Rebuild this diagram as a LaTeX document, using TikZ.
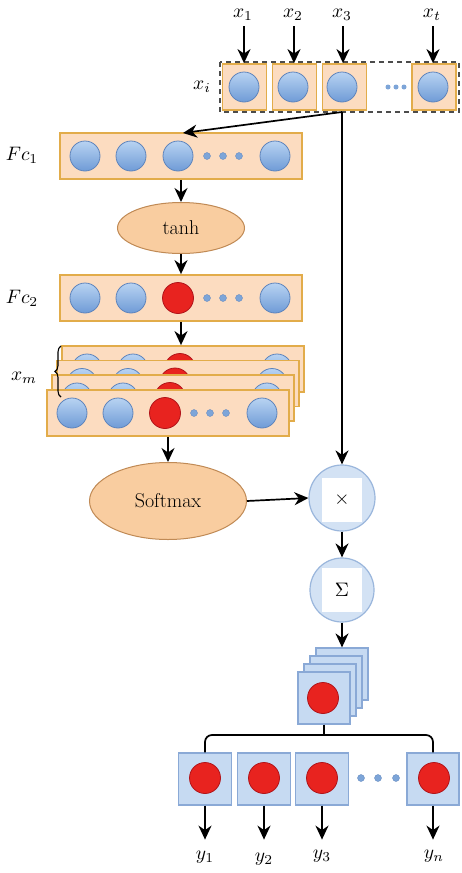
\documentclass[tikz,border=0pt]{standalone}
\usepackage{fontspec}
\usepackage{graphicx}
\setmainfont{Latin Modern Roman}
\usetikzlibrary{arrows.meta,shapes.geometric,decorations.pathreplacing,calc}
\definecolor{ofill}{HTML}{FCDCC0}
\definecolor{obord}{HTML}{E2AC4A}
\definecolor{efill}{HTML}{F9CDA0}
\definecolor{ebord}{HTML}{C08A55}
\definecolor{btop}{HTML}{B8D3F2}
\definecolor{bbot}{HTML}{6F9BD6}
\definecolor{bbord}{HTML}{5E84BC}
\definecolor{rfill}{HTML}{E8231F}
\definecolor{rbord}{HTML}{B0141A}
\definecolor{sqfill}{HTML}{C6DAF2}
\definecolor{sqbord}{HTML}{8AA9D6}
\definecolor{cfill}{HTML}{D3E2F4}
\definecolor{cbord}{HTML}{9AB6DC}
\definecolor{dotc}{HTML}{7DA5D8}
\newcommand\mlab[1]{\scalebox{1.95}{$#1$}}
\newcommand\fcrow[4]{%
  \node[obox] (#1) at (#2,#3) {};
  \node[bc] (#1a) at ($(#1)+(-96,0)$) {};
  \node[bc] (#1b) at ($(#1)+(-50,0)$) {};
  \node[#4] (#1c) at ($(#1)+(-3,0)$) {};
  \node[dotn] (#1d1) at ($(#1)+(26,0)$) {};
  \node[dotn] (#1d2) at ($(#1)+(42,0)$) {};
  \node[dotn] (#1d3) at ($(#1)+(58,0)$) {};
  \node[bc] (#1e) at ($(#1)+(94,0)$) {};
}
\begin{document}
\begin{tikzpicture}[x=1pt,y=-1pt,
  lab/.style={inner sep=0pt},
  obox/.style={rectangle, draw=obord, fill=ofill, line width=1.8pt, minimum width=242pt, minimum height=46pt, inner sep=0pt},
  tbox/.style={rectangle, draw=obord, fill=ofill, line width=1.8pt, minimum width=44pt, minimum height=46pt, inner sep=0pt},
  bc/.style={circle, draw=bbord, top color=btop, bottom color=bbot, line width=0.8pt, minimum size=30pt, inner sep=0pt},
  rc/.style={circle, draw=rbord, fill=rfill, line width=0.8pt, minimum size=31pt, inner sep=0pt},
  dotn/.style={circle, fill=dotc, draw=bbord, line width=0.3pt, minimum size=7pt, inner sep=0pt},
  sdot/.style={circle, fill=dotc, minimum size=5pt, inner sep=0pt},
  ell/.style={ellipse, draw=ebord, fill=efill, line width=1pt, inner sep=0pt, font=\fontsize{20}{24}\selectfont},
  opc/.style={circle, draw=cbord, fill=cfill, line width=1.2pt, minimum size=66pt, inner sep=0pt},
  wsq/.style={rectangle, fill=white, minimum width=40pt, minimum height=44pt, inner sep=0pt},
  sq/.style={rectangle, draw=sqbord, fill=sqfill, line width=1.2pt, minimum size=52pt, inner sep=0pt},
  arr/.style={line width=1.7pt, -{Stealth[length=14pt,width=13pt,inset=4.5pt]}},
  ln/.style={line width=1.7pt}
]
\useasboundingbox (0,0) rectangle (461,873);
\fill[white] (0,0) rectangle (461,873);

% ---- input row ----
\node[tbox] (t1) at (244.5,87) {};
\node[tbox] (t2) at (294.5,87) {};
\node[tbox] (t3) at (344.5,87) {};
\node[tbox] (t4) at (434,87) {};
\node[bc] (c1) at (244,87) {};
\node[bc] (c2) at (293,87) {};
\node[bc] (c3) at (342,87) {};
\node[bc] (c4) at (433,87) {};
\node[sdot] (td1) at (388,87) {};
\node[sdot] (td2) at (396,87) {};
\node[sdot] (td3) at (404,87) {};
\draw[line width=2pt, draw=black!70, dash pattern=on 5pt off 4pt] (220,62) rectangle (459,112);
\node[lab] (lx1) at (243,15) {\mlab{x_1}};
\node[lab] (lx2) at (293,15) {\mlab{x_2}};
\node[lab] (lx3) at (342,15) {\mlab{x_3}};
\node[lab] (lxt) at (432,15) {\mlab{x_t}};
\coordinate (a1) at (244,26);
\coordinate (a2) at (294,26);
\coordinate (a3) at (343,26);
\coordinate (a4) at (433,26);
\draw[arr] (a1) -- (a1 |- t1.north);
\draw[arr] (a2) -- (a2 |- t2.north);
\draw[arr] (a3) -- (a3 |- t3.north);
\draw[arr] (a4) -- (a4 |- t4.north);
\node[lab] (lxi) at (202,87) {\mlab{x_i}};
\coordinate (src) at (342,112);

% ---- Fc1, tanh, Fc2 ----
\fcrow{fc1}{181}{156}{bc}
\node[lab] (lfc1) at (22,155) {\mlab{Fc_1}};
\node[ell, minimum width=127pt, minimum height=51pt] (tanh) at (181,228) {tanh};
\fcrow{fc2}{181}{298}{rc}
\node[lab] (lfc2) at (22,298) {\mlab{Fc_2}};

% ---- stack x_m ----
\fcrow{s3}{183}{369}{rc}
\fcrow{s2}{178}{383.5}{rc}
\fcrow{s1}{173}{398}{rc}
\fcrow{s0}{168}{413}{rc}
\coordinate (br1) at (61,397);
\coordinate (br2) at (61,346);
\draw[line width=1.1pt, decorate, decoration={brace, amplitude=6pt}] (br1) -- (br2);
\node[lab] (lxm) at (24,378) {\mlab{x_m}};

% ---- softmax / ops ----
\node[ell, minimum width=157pt, minimum height=77pt] (soft) at (168,501) {Softmax};
\node[opc] (mul) at (342,498) {};
\node[wsq] (mulsq) at (342,500) {\mlab{\times}};
\node[opc, minimum size=64pt] (sum) at (342,590) {};
\node[wsq] (sumsq) at (342,590) {\mlab{\Sigma}};

% ---- output stack ----
\node[sq] (q3) at (342,674) {};
\node[sq] (q2) at (336,682) {};
\node[sq] (q1) at (330,690) {};
\node[sq] (q0) at (324,698) {};
\node[rc] (qr) at (323,698) {};

% ---- outputs ----
\node[sq, minimum width=53pt] (o1) at (205,779) {};
\node[sq, minimum width=53pt] (o2) at (264,779) {};
\node[sq, minimum width=53pt] (o3) at (322,779) {};
\node[sq, minimum width=52pt] (o4) at (433,779) {};
\node[rc] (or1) at (205,778) {};
\node[rc] (or2) at (264,778) {};
\node[rc] (or3) at (322,778) {};
\node[rc] (or4) at (434,778) {};
\node[dotn] (od1) at (361,778) {};
\node[dotn] (od2) at (378,778) {};
\node[dotn] (od3) at (396,778) {};
\node[lab] (ly1) at (205,857) {\mlab{y_1}};
\node[lab] (ly2) at (264,859) {\mlab{y_2}};
\node[lab] (ly3) at (322,856) {\mlab{y_3}};
\node[lab] (lyn) at (434,856) {\mlab{y_n}};

% ---- connectors ----
\draw[arr] (src) -- (183,133);
\draw[arr] (src) -- (mul.north);
\draw[arr] (fc1.south) -- (tanh.north);
\draw[arr] (tanh.south) -- (fc2.north);
\draw[arr] (fc2.south) -- (fc2.south |- s3.north);
\draw[arr] (s0.south) -- (soft.north -| s0.south);
\draw[arr] (soft.east) -- (mul.west);
\draw[arr] (mul.south) -- (sum.north);
\draw[arr] (sum.south) -- (q3.north);
\coordinate (jn) at (324,735);
\draw[ln] (q0.south) -- (jn);
\draw[ln, rounded corners=7pt] (o1.north) |- (jn) -| (o4.north);
\draw[arr] (o1.south) -- ++(0,34);
\draw[arr] (o2.south) -- ++(0,34);
\draw[arr] (o3.south) -- ++(0,34);
\draw[arr] (o4.south) -- ++(0,34);
\end{tikzpicture}
\end{document}
